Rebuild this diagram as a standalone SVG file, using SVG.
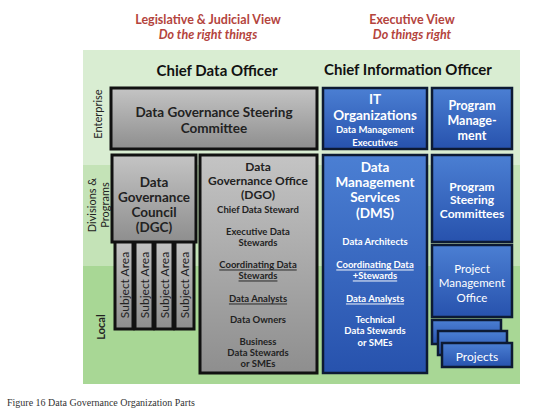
<svg xmlns="http://www.w3.org/2000/svg" width="536" height="412" viewBox="0 0 536 412">
<defs>
<linearGradient id="gg" x1="0" y1="0" x2="0" y2="1"><stop offset="0" stop-color="#c4c4c4"/><stop offset="1" stop-color="#8e8e8e"/></linearGradient>
<linearGradient id="bg" x1="0" y1="0" x2="0" y2="1"><stop offset="0" stop-color="#4b7fd3"/><stop offset="1" stop-color="#2752ad"/></linearGradient>
<style>
text{font-family:Lato,"Open Sans","DejaVu Sans",sans-serif;text-anchor:middle;dominant-baseline:central}
.g{fill:url(#gg);stroke:#111;stroke-width:3}
.b{fill:url(#bg);stroke:#0d1a33;stroke-width:2.5}
.hd{fill:#b4443d;font-weight:bold;font-size:12.5px}
.hi{fill:#b4443d;font-weight:bold;font-style:italic;font-size:12.5px}
.co{fill:#111;font-weight:bold;font-size:15px}
.gt{fill:#222;font-weight:bold}
.wt{fill:#fff;font-weight:bold}
.wn{fill:#fff}
.u{text-decoration:underline}
.lv{fill:#222;font-size:11px}
</style>
</defs>
<rect width="536" height="412" fill="#fff"/>
<rect x="83" y="50" width="437" height="115" fill="#d9edd2"/>
<rect x="83" y="165" width="437" height="101" fill="#c4e3b7"/>
<rect x="83" y="266" width="437" height="118" fill="#a8d795"/>
<text class="hd" x="208" y="19">Legislative &amp; Judicial View</text>
<text class="hi" x="208" y="34">Do the right things</text>
<text class="hd" x="412" y="19">Executive View</text>
<text class="hi" x="412" y="34">Do things right</text>
<text class="co" x="217" y="70">Chief Data Officer</text>
<text class="co" x="408" y="69">Chief Information Officer</text>
<text class="lv" transform="translate(97,114) rotate(-90)">Enterprise</text>
<text class="lv" transform="translate(91,205) rotate(-90)">Divisions &amp;</text>
<text class="lv" transform="translate(104,205) rotate(-90)">Programs</text>
<text class="lv" transform="translate(100,327) rotate(-90)" style="font-weight:bold">Local</text>
<g id="steering"><rect class="g" x="111" y="88" width="206" height="61"/>
<text class="gt" x="214" y="112" font-size="13.5">Data Governance Steering</text>
<text class="gt" x="214" y="128" font-size="13.5">Committee</text></g>
<g id="subjects">
<rect class="g" x="115" y="240" width="18" height="89"/><text class="gt" style="font-weight:normal" font-size="12" transform="translate(124,285) rotate(-90)">Subject Area</text>
<rect class="g" x="135" y="240" width="18" height="89"/><text class="gt" style="font-weight:normal" font-size="12" transform="translate(144,285) rotate(-90)">Subject Area</text>
<rect class="g" x="155" y="240" width="18" height="89"/><text class="gt" style="font-weight:normal" font-size="12" transform="translate(164,285) rotate(-90)">Subject Area</text>
<rect class="g" x="175" y="240" width="19" height="89"/><text class="gt" style="font-weight:normal" font-size="12" transform="translate(184.5,285) rotate(-90)">Subject Area</text>
</g>
<g id="dgc"><rect class="g" x="112" y="155" width="84" height="87"/>
<text class="gt" x="154" y="182" font-size="13.5">Data</text>
<text class="gt" x="154" y="197" font-size="13.5">Governance</text>
<text class="gt" x="154" y="212" font-size="13.5">Council</text>
<text class="gt" x="154" y="227" font-size="13.5">(DGC)</text></g>
<g id="dgo"><rect class="g" x="200" y="155" width="117" height="218"/>
<text class="gt" x="258" y="166" font-size="12">Data</text>
<text class="gt" x="258" y="180" font-size="12">Governance Office</text>
<text class="gt" x="258" y="194" font-size="12">(DGO)</text>
<text class="gt" x="258" y="209" font-size="9.5">Chief Data Steward</text>
<text class="gt" x="258" y="231" font-size="9.5">Executive Data</text>
<text class="gt" x="258" y="242" font-size="9.5">Stewards</text>
<text class="gt u" x="258" y="264" font-size="9.5">Coordinating Data</text>
<text class="gt u" x="258" y="275" font-size="9.5">Stewards</text>
<text class="gt u" x="258" y="298" font-size="9.5">Data Analysts</text>
<text class="gt" x="258" y="319" font-size="9.5">Data Owners</text>
<text class="gt" x="258" y="341" font-size="9.5">Business</text>
<text class="gt" x="258" y="352" font-size="9.5">Data Stewards</text>
<text class="gt" x="258" y="363" font-size="9.5">or SMEs</text></g>
<g id="itorg"><rect class="b" x="323" y="88" width="104" height="61"/>
<text class="wt" x="375" y="99" font-size="13.5">IT</text>
<text class="wt" x="375" y="115" font-size="13.5">Organizations</text>
<text class="wt" x="375" y="129" font-size="9.5">Data Management</text>
<text class="wt" x="375" y="142" font-size="9.5">Executives</text></g>
<g id="progmgmt"><rect class="b" x="432" y="88" width="80" height="61"/>
<text class="wt" x="472" y="105" font-size="12.5">Program</text>
<text class="wt" x="472" y="120" font-size="12.5">Manage-</text>
<text class="wt" x="472" y="135" font-size="12.5">ment</text></g>
<g id="dms"><rect class="b" x="323" y="155" width="104" height="218"/>
<text class="wt" x="375" y="167" font-size="13.5">Data</text>
<text class="wt" x="375" y="182" font-size="13.5">Management</text>
<text class="wt" x="375" y="197" font-size="13.5">Services</text>
<text class="wt" x="375" y="213" font-size="13.5">(DMS)</text>
<text class="wt" x="375" y="241" font-size="9.5">Data Architects</text>
<text class="wt u" x="375" y="264" font-size="9.5">Coordinating Data</text>
<text class="wt u" x="375" y="275" font-size="9.5">+Stewards</text>
<text class="wt u" x="375" y="298" font-size="9.5">Data Analysts</text>
<text class="wt" x="375" y="319" font-size="9.5">Technical</text>
<text class="wt" x="375" y="330" font-size="9.5">Data Stewards</text>
<text class="wt" x="375" y="342" font-size="9.5">or SMEs</text></g>
<g id="psc"><rect class="b" x="432" y="155" width="80" height="87"/>
<text class="wt" x="472" y="186" font-size="12">Program</text>
<text class="wt" x="472" y="199.5" font-size="12">Steering</text>
<text class="wt" x="472" y="213" font-size="12">Committees</text></g>
<g id="pmo"><rect class="b" x="432" y="245" width="80" height="72"/>
<text class="wn" x="472" y="268" font-size="11.5">Project</text>
<text class="wn" x="472" y="282.5" font-size="11.5">Management</text>
<text class="wn" x="472" y="297" font-size="11.5">Office</text></g>
<g id="projects">
<rect class="b" x="432" y="320" width="69" height="24"/>
<rect class="b" x="438" y="331" width="69" height="24"/>
<rect class="b" x="442" y="343" width="70" height="24"/>
<text class="wn" x="477" y="356" font-size="12">Projects</text></g>
<text x="7" y="402" style="font-family:'Liberation Serif',serif;text-anchor:start;fill:#333" font-size="10">Figure 16 Data Governance Organization Parts</text>
</svg>
